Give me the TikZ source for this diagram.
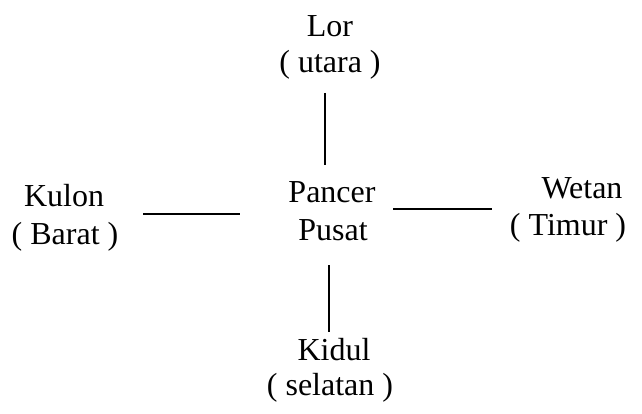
\documentclass[tikz,border=0pt]{standalone}
\usepackage{fontspec}
\setmainfont{Liberation Serif}
\begin{document}
\begin{tikzpicture}[x=1pt,y=-1pt,
  lbl/.style={anchor=base,inner sep=0pt,font=\fontsize{32}{36}\selectfont},
  rule/.style={line width=2pt}]
\useasboundingbox (0,0) rectangle (642,414);
% north
\node[lbl] (lor)   at (330,37)  {Lor};
\node[lbl] (utara) at (330,73)  {( utara )};
% centre
\node[lbl] (pancer) at (332,202) {Pancer};
\node[lbl] (pusat)  at (333,240) {Pusat};
% west
\node[lbl] (kulon) at (64,206) {Kulon};
\node[lbl] (barat) at (65,244) {( Barat )};
% east
\node[lbl] (wetan) at (582,198) {Wetan};
\node[lbl] (timur) at (568,235) {( Timur )};
% south
\node[lbl] (kidul)   at (334,360) {Kidul};
\node[lbl] (selatan) at (330,395) {( selatan )};
% connector ends
\coordinate (n1) at (325,93);  \coordinate (n2) at (325,165);
\coordinate (w1) at (143,214); \coordinate (w2) at (240,214);
\coordinate (e1) at (393,209); \coordinate (e2) at (492,209);
\coordinate (s1) at (329,265); \coordinate (s2) at (329,332);
\draw[rule] (n1) -- (n2);
\draw[rule] (w1) -- (w2);
\draw[rule] (e1) -- (e2);
\draw[rule] (s1) -- (s2);
\end{tikzpicture}
\end{document}
